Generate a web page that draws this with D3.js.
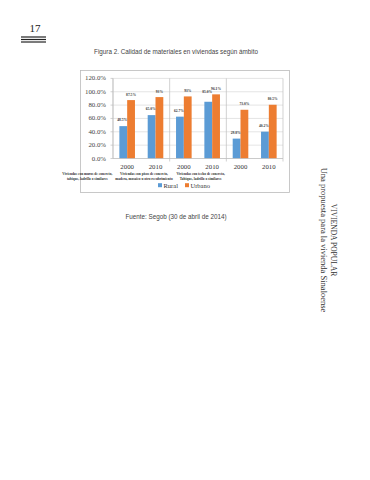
<!DOCTYPE html>
<html>
<head>
<meta charset="utf-8">
<script src="https://cdn.jsdelivr.net/npm/d3@7"></script>
<style>
  html, body { margin: 0; padding: 0; background: #fff; }
  svg { display: block; }
</style>
</head>
<body>
<script>
// Data
const years = ["2000", "2010", "2000", "2010", "2000", "2010"];
const groups = [
  ["Viviendas con muros de concreto,", "tabique, ladrillo o similares"],
  ["Viviendas con pisos de concreto,", "madera, mosaico u otro recubrimiento"],
  ["Viviendas con techo de concreto,", "Tabique, ladrillo o similares"]
];
const rural = [48.5, 65.0, 62.7, 85.0, 29.8, 40.2];
const urbano = [87.5, 92.0, 93.0, 96.1, 73.0, 80.5];
const ruralLabels = ["48.5%", "65.0%", "62.7%", "85.0%", "29.8%", "40.2%"];
const urbanoLabels = ["87.5%", "93%", "93%", "96.1%", "73.0%", "80.5%"];
const yTicks = [0, 20, 40, 60, 80, 100, 120];

const W = 370, H = 480;
const blue = "#5b9bd5", orange = "#ed7d31";
const serif = "'Liberation Serif', 'DejaVu Serif', serif";
const sans = "'Liberation Sans', Arial, sans-serif";

const svg = d3.select("body").append("svg")
  .attr("width", W).attr("height", H);

// Page number and rule lines
svg.append("text")
  .attr("x", 35).attr("y", 32)
  .attr("text-anchor", "middle")
  .style("font-family", serif).style("font-size", "11px")
  .attr("fill", "#222")
  .text("17");
[37, 39.5, 42].forEach(yy => {
  svg.append("line")
    .attr("x1", 21).attr("x2", 46).attr("y1", yy).attr("y2", yy)
    .attr("stroke", "#222").attr("stroke-width", 1.2);
});

// Figure title
svg.append("text")
  .attr("x", 176).attr("y", 54)
  .attr("text-anchor", "middle")
  .style("font-family", sans).style("font-size", "6.3px")
  .attr("fill", "#444")
  .text("Figura 2. Calidad de materiales en viviendas según ámbito");

// Chart frame
svg.append("rect")
  .attr("x", 80.5).attr("y", 70.5).attr("width", 209).attr("height", 122)
  .attr("fill", "#fff").attr("stroke", "#bbb").attr("stroke-width", 0.8);

const plotLeft = 113, plotRight = 283, plotTop = 78.4, plotBottom = 158.5;

const x = d3.scaleBand().domain(d3.range(years.length)).range([plotLeft, plotRight]).paddingInner(0).paddingOuter(0);
const y = d3.scaleLinear().domain([0, 120]).range([plotBottom, plotTop]);
const barW = 7.8;

// Gridlines
svg.append("g")
  .selectAll("line").data(yTicks).join("line")
  .attr("x1", plotLeft).attr("x2", plotRight)
  .attr("y1", d => y(d)).attr("y2", d => y(d))
  .attr("stroke", "#d9d9d9").attr("stroke-width", 0.7);

// Group separators
const sep = [0, 2, 4, 6];
svg.append("g")
  .selectAll("line").data(sep).join("line")
  .attr("x1", d => d < 6 ? x(d) : plotRight).attr("x2", d => d < 6 ? x(d) : plotRight)
  .attr("y1", plotTop).attr("y2", d => d === 0 ? plotBottom : plotBottom + 3)
  .attr("stroke", "#bfbfbf").attr("stroke-width", 0.7);

// Y axis labels
svg.append("g")
  .selectAll("text").data(yTicks).join("text")
  .attr("x", 106).attr("y", d => y(d) + 2)
  .attr("text-anchor", "end")
  .style("font-family", serif).style("font-size", "6.8px")
  .attr("fill", "#444")
  .text(d => d3.format(".1f")(d) + "%");
svg.append("g")
  .selectAll("line").data(yTicks).join("line")
  .attr("x1", plotLeft - 2.5).attr("x2", plotLeft)
  .attr("y1", d => y(d)).attr("y2", d => y(d))
  .attr("stroke", "#bfbfbf").attr("stroke-width", 0.7);
svg.append("line")
  .attr("x1", plotLeft).attr("x2", plotLeft).attr("y1", plotTop).attr("y2", plotBottom)
  .attr("stroke", "#bfbfbf").attr("stroke-width", 0.7);

// Bars
const cx = i => x(i) + x.bandwidth() / 2;
svg.append("g")
  .selectAll("rect").data(rural).join("rect")
  .attr("x", (d, i) => cx(i) - barW).attr("width", barW)
  .attr("y", d => y(d)).attr("height", d => plotBottom - y(d))
  .attr("fill", blue);
svg.append("g")
  .selectAll("rect").data(urbano).join("rect")
  .attr("x", (d, i) => cx(i)).attr("width", barW)
  .attr("y", d => y(d)).attr("height", d => plotBottom - y(d))
  .attr("fill", orange);

// X axis line
svg.append("line")
  .attr("x1", plotLeft).attr("x2", plotRight).attr("y1", plotBottom).attr("y2", plotBottom)
  .attr("stroke", "#bfbfbf").attr("stroke-width", 0.7);

// Data labels
const lblStyle = sel => sel
  .attr("text-anchor", "middle")
  .style("font-family", serif).style("font-size", "3.6px")
  .style("font-weight", "bold")
  .attr("fill", "#333");
svg.append("g")
  .selectAll("text").data(rural).join("text")
  .attr("x", (d, i) => cx(i) - barW / 2 - 1)
  .attr("y", (d, i) => y(d) - (i === 3 ? 9 : 5))
  .call(lblStyle)
  .text((d, i) => ruralLabels[i]);
svg.append("g")
  .selectAll("text").data(urbano).join("text")
  .attr("x", (d, i) => cx(i) + barW / 2)
  .attr("y", d => y(d) - 4.5)
  .call(lblStyle)
  .text((d, i) => urbanoLabels[i]);

// Year labels
svg.append("g")
  .selectAll("text").data(years).join("text")
  .attr("x", (d, i) => cx(i)).attr("y", 168.5)
  .attr("text-anchor", "middle")
  .style("font-family", serif).style("font-size", "6.8px")
  .attr("fill", "#333")
  .text(d => d);

// Group labels (sit offset to the left in the original)
const gw = x.bandwidth() * 2;
groups.forEach((lines, g) => {
  const gx = x(g * 2) + gw / 2 - 54;
  lines.forEach((t, k) => {
    svg.append("text")
      .attr("x", gx).attr("y", 174.5 + k * 5)
      .attr("text-anchor", "middle")
      .style("font-family", serif).style("font-size", "3.5px")
      .style("font-weight", "bold")
      .attr("fill", "#333")
      .text(t);
  });
});

// Legend
const legend = [["Rural", blue, 158], ["Urbano", orange, 185]];
legend.forEach(([name, col, lx]) => {
  svg.append("rect").attr("x", lx).attr("y", 183.2).attr("width", 4).attr("height", 4).attr("fill", col);
  svg.append("text")
    .attr("x", lx + 5.5).attr("y", 187.6)
    .style("font-family", serif).style("font-size", "6.5px")
    .attr("fill", "#333")
    .text(name);
});

// Source
svg.append("text")
  .attr("x", 176).attr("y", 219)
  .attr("text-anchor", "middle")
  .style("font-family", sans).style("font-size", "6.3px")
  .attr("fill", "#444")
  .text("Fuente: Segob (30 de abril de 2014)");

// Vertical running header
const side = svg.append("g").attr("transform", "translate(328, 240) rotate(90)");
side.append("text")
  .attr("x", 0).attr("y", -3)
  .attr("text-anchor", "middle")
  .style("font-family", serif).style("font-size", "7.5px")
  .attr("fill", "#333")
  .text("VIVIENDA POPULAR");
side.append("text")
  .attr("x", 0).attr("y", 7)
  .attr("text-anchor", "middle")
  .style("font-family", serif).style("font-size", "8.5px")
  .attr("fill", "#333")
  .text("Una propuesta para la vivienda Sinaloense");
</script>
</body>
</html>
